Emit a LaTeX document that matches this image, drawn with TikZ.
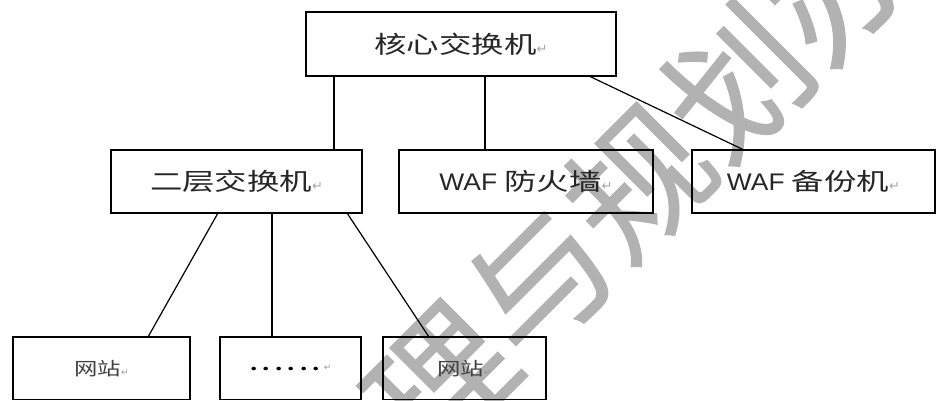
\documentclass[tikz,border=0pt]{standalone}
\usepackage{fontspec}
\newfontfamily\cjk{Noto Sans CJK SC}[FakeStretch=1.35]
\newfontfamily\cjksmall{Noto Sans CJK SC}[FakeStretch=1.3]
\newfontfamily\wafont{Liberation Sans}[FakeStretch=1.1]
\newfontfamily\wmfont{Noto Sans CJK SC}[FakeBold=0.6]
\newfontfamily\dvfont{DejaVu Sans}
\newcommand\pmk{{\dvfont\color{black!35}\fontsize{13}{13}\selectfont ↵}}
\newcommand\pmks{{\dvfont\color{black!40}\fontsize{9}{9}\selectfont ↵}}
\begin{document}
\begin{tikzpicture}[x=1pt,y=1pt,
  box/.style={draw,line width=1.3pt,rectangle,inner sep=0pt,outer sep=0pt,
    minimum height=63pt,font=\cjk\fontsize{24}{24}\selectfont,text=black!85},
  smallbox/.style={box,minimum height=62.5pt,font=\cjksmall\fontsize{18}{18}\selectfont,text=black!75},
  link/.style={line width=1.2pt}]
\useasboundingbox (0,0) rectangle (937,-401);
\begin{scope}
\clip (0,0) rectangle (937,-401);
\node[rotate=45,text=black!30,inner sep=0pt,font=\wmfont\fontsize{140}{140}\selectfont] (wm) at (638,-182) {理与规划办};
\end{scope}
\node[box,minimum width=310pt,minimum height=64pt] (core) at (461,-44) {核心交换机\pmk};
\node[box,minimum width=251pt] (l2) at (236.5,-181.5) {二层交换机\pmk};
\node[box,minimum width=254pt] (fw) at (526,-181.5) {{\wafont WAF} 防火墙\pmk};
\node[box,minimum width=243pt] (bk) at (813.5,-181.5) {{\wafont WAF} 备份机\pmk};
\node[smallbox,minimum width=177pt] (w1) at (101.5,-368.25) {网站\pmks};
\node[smallbox,minimum width=141pt,text=black] (dt) at (290.5,-368.25) {{\fontsize{26}{26}\selectfont.\kern3pt.\kern3pt.\kern3pt.\kern3pt.\kern3pt.}\kern3pt\pmks};
\node[smallbox,minimum width=163pt] (w2) at (464.5,-368.25) {网站\pmks};
\draw[link] ([xshift=28pt]core.south west) -- ([xshift=28pt]core.south west |- l2.north);
\draw[link] ([xshift=179pt]core.south west) -- ([xshift=179pt]core.south west |- fw.north);
\draw[link] ([xshift=283pt]core.south west) -- ([xshift=52pt]bk.north west);
\draw[link] ([xshift=107pt]l2.south west) -- ([xshift=135pt]w1.north west);
\draw[link] ([xshift=161pt]l2.south west) -- ([xshift=161pt]l2.south west |- dt.north);
\draw[link] ([xshift=236pt]l2.south west) -- ([xshift=46pt]w2.north west);
\end{tikzpicture}
\end{document}
